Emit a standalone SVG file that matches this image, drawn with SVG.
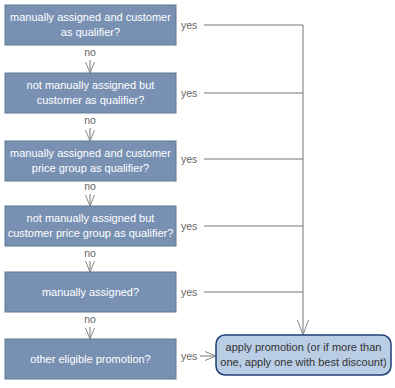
<svg xmlns="http://www.w3.org/2000/svg" width="395" height="388" viewBox="0 0 395 388">
<defs>
<style>
.box{fill:#7891b3;stroke:#5f7898;stroke-width:1}
.bt{font-family:"Liberation Sans",Arial,sans-serif;font-size:11px;fill:#ffffff;text-anchor:middle}
.lbl{font-family:"Liberation Sans",Arial,sans-serif;font-size:10.5px;fill:#666666}
.ln{stroke:#777777;stroke-width:1;fill:none}
.end{fill:#b9cde5;stroke:#1f3f75;stroke-width:1.5}
.et{font-family:"Liberation Sans",Arial,sans-serif;font-size:11px;fill:#333333;text-anchor:middle}
</style>
<marker id="ah" markerWidth="12" markerHeight="12" viewBox="0 0 12 12" refX="11" refY="6" orient="auto" markerUnits="userSpaceOnUse">
<path d="M0,1.5 L11,6 L0,10.5" fill="none" stroke="#888888" stroke-width="1"/>
</marker>
<marker id="ahl" markerWidth="16" markerHeight="14" viewBox="0 0 16 14" refX="15" refY="7" orient="auto" markerUnits="userSpaceOnUse">
<path d="M0,1.5 L15,7 L0,12.5" fill="none" stroke="#888888" stroke-width="1"/>
</marker>
</defs>
<g id="connectors">
<line class="ln" x1="90" y1="60" x2="90" y2="73" marker-end="url(#ah)"/>
<line class="ln" x1="90" y1="128" x2="90" y2="141" marker-end="url(#ah)"/>
<line class="ln" x1="90" y1="194" x2="90" y2="206" marker-end="url(#ah)"/>
<line class="ln" x1="90" y1="261" x2="90" y2="272" marker-end="url(#ah)"/>
<line class="ln" x1="90" y1="327" x2="90" y2="339" marker-end="url(#ah)"/>
<text class="lbl" x="90" y="56" text-anchor="middle">no</text>
<text class="lbl" x="90" y="124" text-anchor="middle">no</text>
<text class="lbl" x="90" y="190" text-anchor="middle">no</text>
<text class="lbl" x="90" y="257" text-anchor="middle">no</text>
<text class="lbl" x="90" y="323" text-anchor="middle">no</text>
<text class="lbl" x="181" y="29">yes</text>
<text class="lbl" x="181" y="97">yes</text>
<text class="lbl" x="181" y="163">yes</text>
<text class="lbl" x="181" y="230">yes</text>
<text class="lbl" x="181" y="296">yes</text>
<text class="lbl" x="181" y="360">yes</text>
<line class="ln" x1="204" y1="25" x2="303" y2="25"/>
<line class="ln" x1="204" y1="93" x2="303" y2="93"/>
<line class="ln" x1="204" y1="159" x2="303" y2="159"/>
<line class="ln" x1="204" y1="226" x2="303" y2="226"/>
<line class="ln" x1="204" y1="292" x2="303" y2="292"/>
<line class="ln" x1="303" y1="25" x2="303" y2="335" marker-end="url(#ahl)"/>
<line class="ln" x1="200" y1="356" x2="216" y2="356" marker-end="url(#ah)"/>
</g>
<g id="q1">
<rect class="box" x="5" y="5" width="171" height="40"/>
<text class="bt" x="90.5" y="21">manually assigned and customer</text>
<text class="bt" x="90.5" y="36">as qualifier?</text>
</g>
<g id="q2">
<rect class="box" x="5" y="73" width="171" height="40"/>
<text class="bt" x="90.5" y="89">not manually assigned but</text>
<text class="bt" x="90.5" y="104">customer as qualifier?</text>
</g>
<g id="q3">
<rect class="box" x="5" y="141" width="171" height="40"/>
<text class="bt" x="90.5" y="157">manually assigned and customer</text>
<text class="bt" x="90.5" y="172">price group as qualifier?</text>
</g>
<g id="q4">
<rect class="box" x="5" y="206" width="171" height="40"/>
<text class="bt" x="90.5" y="222">not manually assigned but</text>
<text class="bt" x="90.5" y="237">customer price group as qualifier?</text>
</g>
<g id="q5">
<rect class="box" x="5" y="272" width="171" height="40"/>
<text class="bt" x="90.5" y="296">manually assigned?</text>
</g>
<g id="q6">
<rect class="box" x="5" y="339" width="171" height="40"/>
<text class="bt" x="90.5" y="363">other eligible promotion?</text>
</g>
<g id="apply">
<rect class="end" x="216" y="335" width="175" height="40" rx="9" ry="9"/>
<text class="et" x="303.5" y="351">apply promotion (or if more than</text>
<text class="et" x="303.5" y="366">one, apply one with best discount)</text>
</g>
</svg>
